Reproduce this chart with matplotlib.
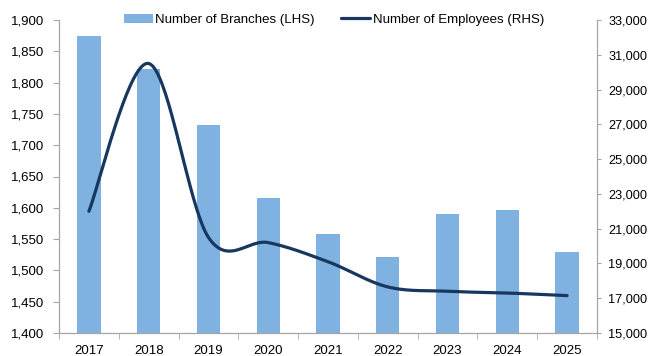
import numpy as np
import matplotlib
matplotlib.use('Agg')
import matplotlib.pyplot as plt
from matplotlib.ticker import FuncFormatter, FixedLocator

plt.rcParams['font.family'] = ['Liberation Sans', 'DejaVu Sans']

years = ['2017', '2018', '2019', '2020', '2021', '2022', '2023', '2024', '2025']
branches = [1875, 1822, 1732, 1615, 1558, 1522, 1590, 1597, 1529]
employees = [22000, 30500, 20500, 20200, 19100, 17650, 17400, 17300, 17150]

BAR_COL = '#7FB2E1'
LINE_COL = '#17375E'
GRID_COL = '#A6A6A6'


def smooth(xs, ys, n=40):
    # excel-style smoothed line: cubic bezier with catmull-rom control points
    xs = np.asarray(xs, float); ys = np.asarray(ys, float)
    px = np.concatenate([[xs[0]], xs, [xs[-1]]])
    py = np.concatenate([[ys[0]], ys, [ys[-1]]])
    outx, outy = [], []
    t = np.linspace(0, 1, n)
    for i in range(1, len(px) - 2):
        p0 = np.array([px[i], py[i]]); p3 = np.array([px[i+1], py[i+1]])
        c1 = p0 + (np.array([px[i+1], py[i+1]]) - np.array([px[i-1], py[i-1]])) / 6
        c2 = p3 - (np.array([px[i+2], py[i+2]]) - np.array([px[i], py[i]])) / 6
        b = ((1-t)**3)[:, None]*p0 + (3*(1-t)**2*t)[:, None]*c1 + (3*(1-t)*t**2)[:, None]*c2 + (t**3)[:, None]*p3
        outx.extend(b[:, 0]); outy.extend(b[:, 1])
    return np.array(outx), np.array(outy)


fig = plt.figure(figsize=(6.51, 3.56), dpi=100)
ax = fig.add_axes([59/651, 23/356, 538/651, 313/356])
x = np.arange(len(years))
bars = ax.bar(x, branches, width=0.39, color=BAR_COL, zorder=2, label='Number of Branches (LHS)')
ax.set_xlim(-0.5, len(years) - 0.5)
ax.set_ylim(1400, 1900)
ax.set_yticks(np.arange(1400, 1901, 50))
ax.yaxis.set_major_formatter(FuncFormatter(lambda v, p: f'{v:,.0f}'))

ax2 = ax.twinx()
sx, sy = smooth(x, employees)
line, = ax2.plot(sx, sy, color=LINE_COL, lw=2.3, solid_capstyle='round', zorder=3,
                 label='Number of Employees (RHS)')
ax2.set_ylim(15000, 33000)
ax2.set_yticks(np.arange(15000, 33001, 2000))
ax2.yaxis.set_major_formatter(FuncFormatter(lambda v, p: f'{v:,.0f}'))

ax.set_xticks(x)
ax.set_xticklabels(years)
ax.xaxis.set_minor_locator(FixedLocator(np.arange(-0.5, len(years), 1)))
ax.tick_params(axis='x', which='major', length=0, pad=9, labelsize=9.5)
ax.tick_params(axis='x', which='minor', length=4, color=GRID_COL, direction='out')
ax.tick_params(axis='y', length=4, color=GRID_COL, pad=7, labelsize=9.5)
ax2.tick_params(axis='y', length=3, color=GRID_COL, pad=5, labelsize=9.2)

for a in (ax, ax2):
    a.spines['top'].set_visible(False)
    for s in ('left', 'right', 'bottom'):
        a.spines[s].set_color(GRID_COL)
        a.spines[s].set_linewidth(0.9)
ax2.spines['left'].set_visible(False)
ax2.spines['bottom'].set_visible(False)
ax.spines['right'].set_visible(False)

fig.legend([bars, line], [bars.get_label(), line.get_label()], loc='center',
           bbox_to_anchor=(334/651, 1 - 20/356), ncol=2, frameon=False, fontsize=9.5,
           handlelength=2.2, columnspacing=2.0, handletextpad=0.2)

fig.savefig('out.png', dpi=100)
